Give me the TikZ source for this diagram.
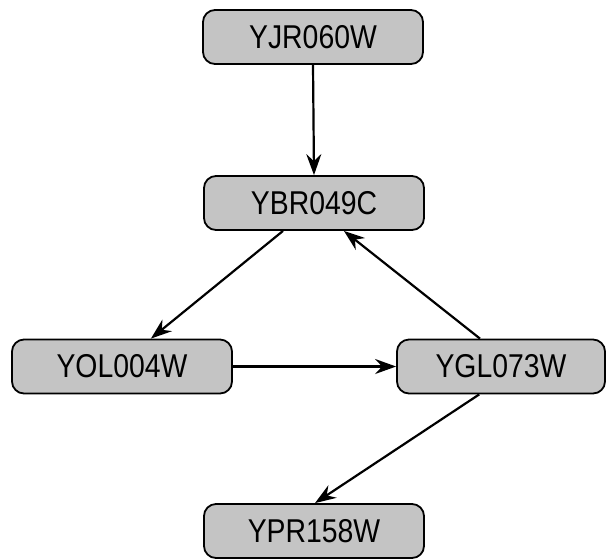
\documentclass[tikz,border=0pt]{standalone}
\usepackage{fontspec}
\setmainfont{Liberation Sans}[FakeStretch=0.86]
\usetikzlibrary{arrows.meta}
\definecolor{boxgray}{RGB}{196,196,196}
\begin{document}
\begin{tikzpicture}[x=1pt,y=-1pt,
  gene/.style={draw=black, line width=1.8pt, fill=boxgray, rounded corners=12pt,
    minimum width=220pt, minimum height=54pt, inner sep=0pt,
    font=\fontsize{33}{36}\selectfont},
  arr/.style={line width=2.2pt, -{Stealth[length=21pt,width=15pt,inset=7pt]}}]
\useasboundingbox (0,0) rectangle (607,558);

\node[gene] (yjr) at (313,37) {YJR060W};
\node[gene] (ybr) at (314,203) {YBR049C};
\node[gene] (yol) at (122,366.5) {YOL004W};
\node[gene, minimum width=208pt] (ygl) at (501,366.5) {YGL073W};
\node[gene] (ypr) at (314,531) {YPR158W};

\draw[arr] (yjr.south) -- (ybr.north);
\draw[arr] (ybr.222) -- (yol.44);
\draw[arr] (yol.east) -- (ygl.west);
\draw[arr] (ygl.127) -- (ybr.317);
\draw[arr] (ygl.232) -- (ypr.88);
\end{tikzpicture}
\end{document}
